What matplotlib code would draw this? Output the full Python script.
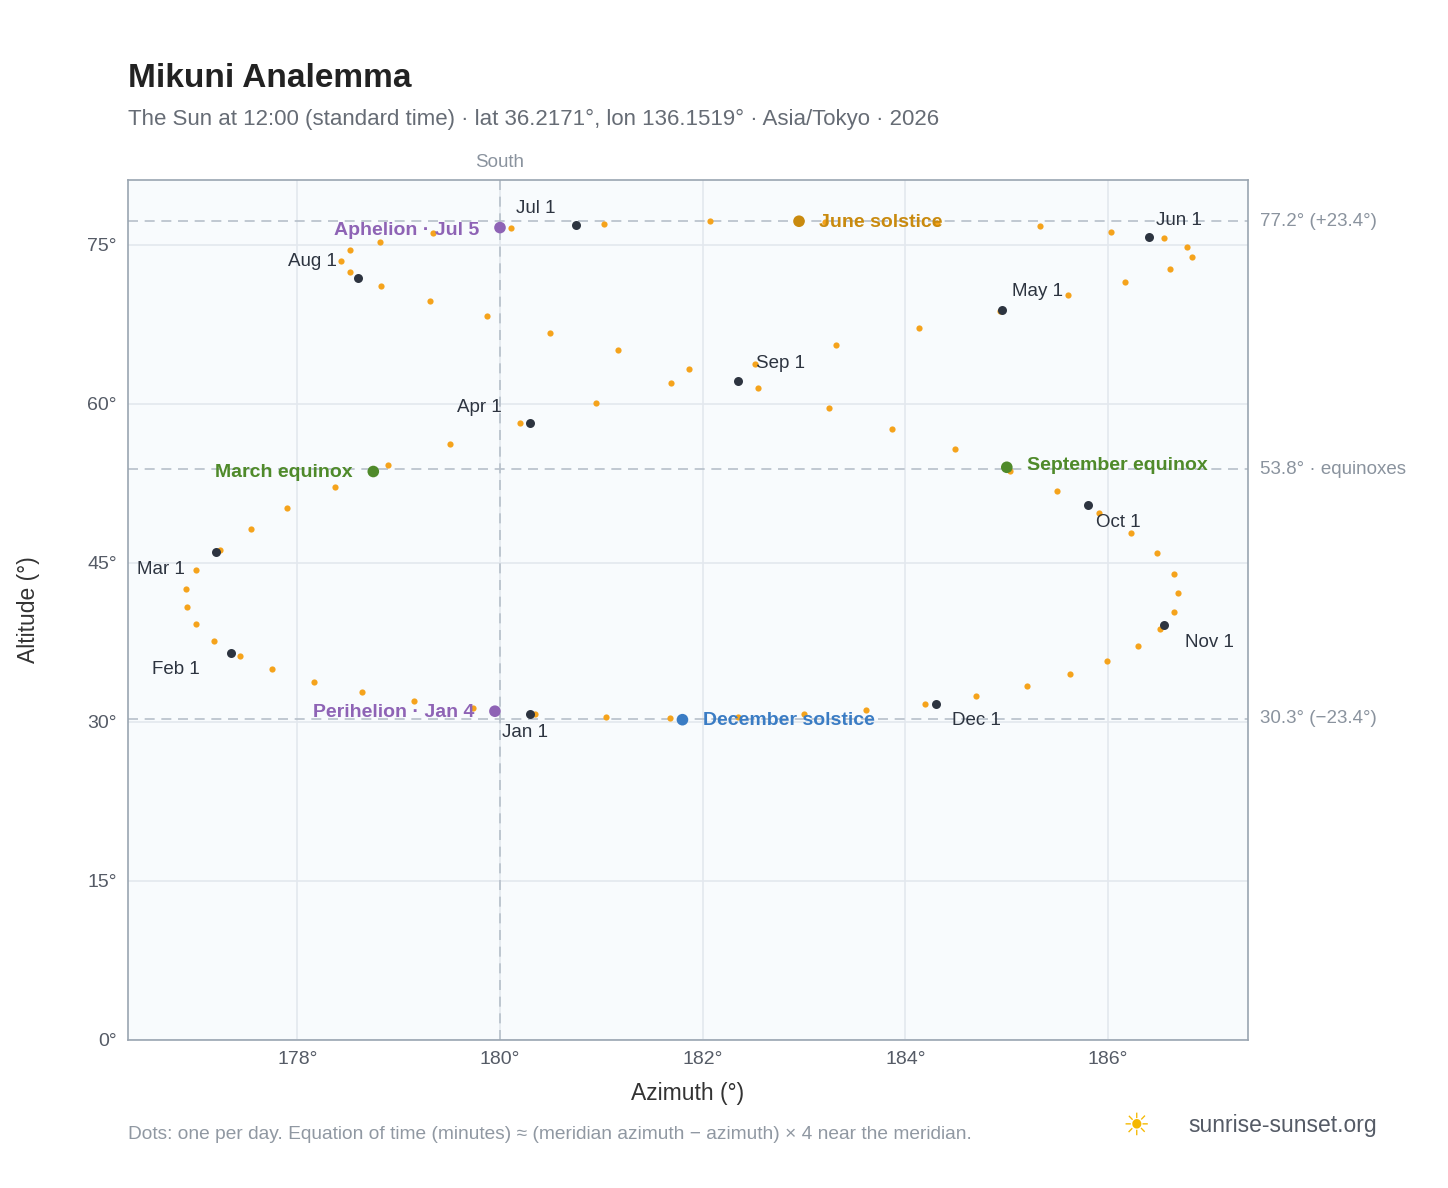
import numpy as np
import matplotlib
matplotlib.use("Agg")
import matplotlib.pyplot as plt
plt.rcParams['font.family'] = ['Liberation Sans', 'DejaVu Sans']

LAT, LON, ZONE_MER = 36.2171, 136.1519, 135.0
# Every 5 days from Jan 1: solar declination (deg) and equation of time (min)
dec = [-23.0,-22.5,-21.8,-21.0,-20.0,-18.8,-17.5,-16.1,-14.5,-12.9,-11.2,-9.4,-7.5,-5.6,-3.6,-1.6,
       0.4,2.4,4.4,6.3,8.2,10.0,11.8,13.4,15.0,16.5,17.8,19.0,20.1,21.1,21.9,22.5,23.0,23.3,23.4,23.4,
       23.2,22.8,22.3,21.5,20.7,19.7,18.6,17.3,15.9,14.5,12.9,11.3,9.5,7.7,5.8,3.9,2.0,0.0,-1.9,-3.9,
       -5.8,-7.7,-9.6,-11.4,-13.2,-14.8,-16.4,-17.8,-19.1,-20.2,-21.2,-22.0,-22.6,-23.0,-23.3,-23.4,-23.3]
eot = [-3.3,-5.6,-7.7,-9.5,-11.1,-12.4,-13.3,-13.9,-14.2,-14.2,-13.9,-13.3,-12.3,-11.2,-10.0,-8.6,
       -7.2,-5.7,-4.2,-2.7,-1.4,-0.1,1.0,2.0,2.8,3.3,3.6,3.7,3.5,3.0,2.4,1.6,0.7,-0.4,-1.5,-2.6,
       -3.6,-4.5,-5.3,-5.9,-6.3,-6.5,-6.5,-6.2,-5.6,-4.8,-3.8,-2.6,-1.2,0.3,2.0,3.7,5.5,7.3,9.0,10.7,
       12.2,13.6,14.8,15.6,16.2,16.4,16.3,15.8,15.0,13.9,12.4,10.8,8.8,6.6,4.2,1.7,-0.7]

month_labels = ["Jan 1","Feb 1","Mar 1","Apr 1","May 1","Jun 1","Jul 1","Aug 1","Sep 1","Oct 1","Nov 1","Dec 1"]
month_az = [180.3,177.35,177.2,180.3,184.95,186.4,180.75,178.6,182.35,185.8,186.55,184.3]
month_alt = [30.7,36.5,46.0,58.2,68.8,75.7,76.8,71.8,62.1,50.4,39.1,31.7]

special_labels = ["Perihelion · Jan 4","Aphelion · Jul 5","June solstice","December solstice","March equinox","September equinox"]
special_az = [179.95,180.0,182.95,181.8,178.75,185.0]
special_alt = [31.0,76.6,77.2,30.2,53.6,54.0]
special_col = ["#8e63b5","#8e63b5","#c98a0e","#3a7cc4","#4f8a2a","#4f8a2a"]

d = np.radians(dec); phi = np.radians(LAT)
H = np.radians(((LON - ZONE_MER) * 4 + np.array(eot)) / 4.0)
alt = np.degrees(np.arcsin(np.sin(phi)*np.sin(d) + np.cos(phi)*np.cos(d)*np.cos(H)))
az = 180 + np.degrees(np.arctan2(np.sin(H), np.cos(H)*np.sin(phi) - np.tan(d)*np.cos(phi)))

fig = plt.figure(figsize=(14.48, 11.88), dpi=100)
ax = fig.add_axes([0.0884, 0.1246, 0.7735, 0.724])
ax.set_facecolor("#f8fbfd")
ax.set_xlim(176.33, 187.38); ax.set_ylim(0, 81.1)
ax.set_xticks([178,180,182,184,186]); ax.set_xticklabels([f"{v}°" for v in [178,180,182,184,186]])
ax.set_yticks([0,15,30,45,60,75]); ax.set_yticklabels([f"{v}°" for v in [0,15,30,45,60,75]])
ax.grid(color="#e3e8ee", lw=1.2); ax.set_axisbelow(True)
for s in ax.spines.values(): s.set_color("#9aa5b1"); s.set_linewidth(1.2)
ax.tick_params(length=0, labelsize=14, colors="#555b66", pad=8)
ax.set_xlabel("Azimuth (°)", fontsize=16.5, color="#333", labelpad=10)
ax.set_ylabel("Altitude (°)", fontsize=16.5, color="#333", labelpad=34)

for y in [77.2, 53.8, 30.3]:
    ax.axhline(y, color="#b7c0ca", ls=(0,(6,4)), lw=1.2, zorder=1)
ax.axvline(180, color="#b7c0ca", ls=(0,(6,4)), lw=1.2, zorder=1)
tr = ax.get_yaxis_transform()
ax.text(1.011, 77.2, "77.2° (+23.4°)", transform=tr, va="center", fontsize=13.5, color="#8a939e")
ax.text(1.011, 53.8, "53.8° · equinoxes", transform=tr, va="center", fontsize=13.5, color="#8a939e")
ax.text(1.011, 30.3, "30.3° (−23.4°)", transform=tr, va="center", fontsize=13.5, color="#8a939e")
ax.text(180, 1.01, "South", transform=ax.get_xaxis_transform(), ha="center", va="bottom", fontsize=13.5, color="#8a939e")

ax.scatter(az, alt, s=20, color="#f5a31c", zorder=3, lw=0)
ax.scatter(month_az, month_alt, s=42, color="#2d3440", zorder=4, lw=0)
offs = {"Jan 1":(-0.05,-1.7,"center"),"Feb 1":(-0.55,-1.6,"center"),"Mar 1":(-0.55,-1.6,"center"),
        "Apr 1":(-0.5,1.4,"center"),"May 1":(0.35,1.8,"center"),"Jun 1":(0.3,1.6,"center"),
        "Jul 1":(-0.4,1.6,"center"),"Aug 1":(-0.45,1.6,"center"),"Sep 1":(0.42,1.7,"center"),
        "Oct 1":(0.3,-1.6,"center"),"Nov 1":(0.45,-1.6,"center"),"Dec 1":(0.4,-1.6,"center")}
for lab, x, y in zip(month_labels, month_az, month_alt):
    dx, dy, ha = offs[lab]
    ax.text(x+dx, y+dy, lab, fontsize=13.5, color="#2d3440", ha=ha, va="center", zorder=5)
ax.scatter(special_az, special_alt, s=70, color=special_col, zorder=4, lw=0)
sp = {0:(-0.2,-0.1,"right"),1:(-0.2,-0.3,"right"),2:(0.2,-0.1,"left"),3:(0.2,-0.1,"left"),4:(-0.2,-0.1,"right"),5:(0.2,0.2,"left")}
for i,(lab,x,y,c) in enumerate(zip(special_labels,special_az,special_alt,special_col)):
    dx, dy, ha = sp[i]
    ax.text(x+dx, y+dy, lab, fontsize=14, fontweight="bold", color=c, ha=ha, va="center", zorder=5)

fig.text(0.0884, 0.927, "Mikuni Analemma", fontsize=24, fontweight="bold", color="#222")
fig.text(0.0884, 0.895, "The Sun at 12:00 (standard time) · lat 36.2171°, lon 136.1519° · Asia/Tokyo · 2026", fontsize=16, color="#666c75")
fig.text(0.0884, 0.041, "Dots: one per day. Equation of time (minutes) ≈ (meridian azimuth − azimuth) × 4 near the meridian.", fontsize=13.8, color="#9098a2")
fig.text(0.821, 0.047, "sunrise-sunset.org", fontsize=16.5, color="#555b66")
fig.text(0.775, 0.045, "☀", fontsize=22, color="#f5b800", family="DejaVu Sans")
fig.savefig("out.png", dpi=100)
